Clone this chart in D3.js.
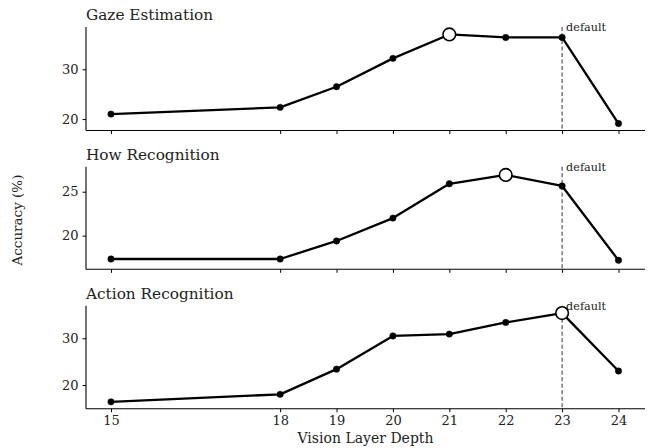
<!DOCTYPE html>
<html>
<head>
<meta charset="utf-8">
<script src="https://cdn.jsdelivr.net/npm/d3@7"></script>
<style>
  html, body { margin: 0; padding: 0; background: #fff; }
  svg { display: block; }
  text { font-family: "DejaVu Serif", serif; fill: #222; }
</style>
</head>
<body>
<svg id="chart" width="656" height="448"></svg>
<script>
const layers = [15, 18, 19, 20, 21, 22, 23, 24];
const xTickLabels = ["15", "18", "19", "20", "21", "22", "23", "24"];
const panelTitles = ["Gaze Estimation", "How Recognition", "Action Recognition"];
const gazeValues = [21.0, 22.35, 26.5, 32.2, 37.0, 36.4, 36.4, 19.1];
const howValues = [17.35, 17.35, 19.4, 22.0, 25.9, 26.9, 25.65, 17.2];
const actionValues = [16.4, 18.0, 23.4, 30.5, 30.9, 33.4, 35.4, 23.0];
const yTicks = [[20, 30], [20, 25], [20, 30]];
const yDomains = [[17.7, 38.5], [16.18, 27.84], [14.93, 36.98]];
const bestLayer = [21, 22, 23];
const defaultLayer = 23;

const series = [gazeValues, howValues, actionValues];
const svg = d3.select("#chart");
const left = 86, right = 645;
const tops = [27, 166.7, 305.7];
const bottoms = [130.5, 269.3, 408.7];

const x = d3.scaleLinear().domain([14.557, 24.47]).range([left, right]);

series.forEach((vals, i) => {
  const y = d3.scaleLinear().domain(yDomains[i]).range([bottoms[i], tops[i]]);
  const g = svg.append("g");

  g.append("text").attr("x", left).attr("y", tops[i] - 7)
    .attr("font-size", 15.3).text(panelTitles[i]);

  g.append("line").attr("x1", x(defaultLayer)).attr("x2", x(defaultLayer))
    .attr("y1", tops[i]).attr("y2", bottoms[i])
    .attr("stroke", "#333").attr("stroke-width", 1).attr("stroke-dasharray", "4,2.5");
  g.append("text").attr("x", x(defaultLayer) + 4).attr("y", tops[i] + 4)
    .attr("font-size", 11.2).text("default");

  const yAxis = d3.axisLeft(y).tickValues(yTicks[i]).tickSize(3.5).tickPadding(4);
  const ya = g.append("g").attr("transform", `translate(${left},0)`).call(yAxis);
  ya.select(".domain").attr("d", `M0,${tops[i]}V${bottoms[i]}`).attr("stroke-width", 1.1);
  ya.selectAll("text").attr("font-size", 13).attr("font-family", "DejaVu Serif").attr("fill", "#222");

  const xAxis = d3.axisBottom(x).tickValues(layers)
    .tickFormat((d, k) => i === 2 ? xTickLabels[k] : "").tickSize(3.5).tickPadding(4);
  const xa = g.append("g").attr("transform", `translate(0,${bottoms[i]})`).call(xAxis);
  xa.select(".domain").attr("d", `M${left},0H${right}`).attr("stroke-width", 1.1);
  xa.selectAll("text").attr("font-size", 13).attr("font-family", "DejaVu Serif").attr("fill", "#222");

  const line = d3.line().x((d, k) => x(layers[k])).y(d => y(d));
  g.append("path").datum(vals).attr("d", line)
    .attr("fill", "none").attr("stroke", "#000").attr("stroke-width", 2.3)
    .attr("stroke-linejoin", "round");

  g.selectAll("circle.pt").data(vals).enter().append("circle")
    .attr("cx", (d, k) => x(layers[k])).attr("cy", d => y(d))
    .attr("r", (d, k) => layers[k] === bestLayer[i] ? 6.3 : 3.2)
    .attr("fill", (d, k) => layers[k] === bestLayer[i] ? "#fff" : "#000")
    .attr("stroke", "#000")
    .attr("stroke-width", (d, k) => layers[k] === bestLayer[i] ? 1.6 : 0.5);
});

svg.append("text").attr("x", (left + right) / 2).attr("y", 443)
  .attr("text-anchor", "middle").attr("font-size", 14).text("Vision Layer Depth");
svg.append("text").attr("transform", "translate(22,220) rotate(-90)")
  .attr("text-anchor", "middle").attr("font-size", 13.5).text("Accuracy (%)");
</script>
</body>
</html>
